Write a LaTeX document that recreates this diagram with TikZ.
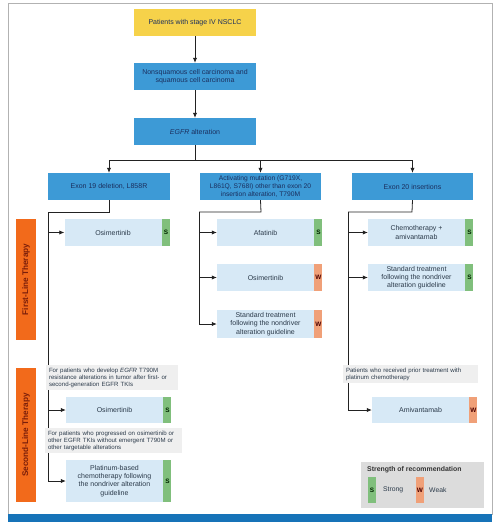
\documentclass[tikz,border=0pt]{standalone}
\usepackage{fontspec}
\setmainfont{Liberation Sans}
\usetikzlibrary{arrows.meta}
\pgfdeclarelayer{bg}\pgfdeclarelayer{back}\pgfsetlayers{back,bg,main}
\definecolor{yel}{HTML}{F6D24A}
\definecolor{blu}{HTML}{3D9AD6}
\definecolor{navy}{HTML}{1B2F5E}
\definecolor{lblu}{HTML}{D7E9F6}
\definecolor{grn}{HTML}{80BF7C}
\definecolor{org}{HTML}{F0A078}
\definecolor{barc}{HTML}{F26A1B}
\definecolor{barT}{HTML}{7A1E0A}
\definecolor{notec}{HTML}{EFEFEF}
\definecolor{legc}{HTML}{DCDCDC}
\definecolor{botc}{HTML}{1673B8}
\definecolor{txc}{HTML}{2B3A4A}
\definecolor{lnc}{HTML}{222222}
\begin{document}
\begin{tikzpicture}[x=1pt,y=-1pt,
  box/.style={minimum width=122pt, minimum height=27pt, inner sep=1pt, align=center, text=navy, font=\fontsize{7}{8.2}\selectfont},
  ybox/.style={box, fill=yel},
  bbox/.style={box, fill=blu},
  lt/.style={minimum width=97pt, minimum height=27pt, inner sep=1pt, align=center, fill=lblu, text=txc, font=\fontsize{7}{8.2}\selectfont},
  tagS/.style={anchor=west, minimum width=8pt, inner sep=0pt, fill=grn, text=black!85!green, font=\bfseries\fontsize{6.4}{7}\selectfont},
  tagW/.style={anchor=west, minimum width=8pt, inner sep=0pt, fill=org, text=black!70!red, font=\bfseries\fontsize{6.4}{7}\selectfont},
  notebox/.style={fill=notec, inner xsep=3pt, inner ysep=1pt, align=left, text=txc, font=\fontsize{6.1}{7}\selectfont},
  barnode/.style={fill=barc, rotate=90, minimum height=20pt, inner sep=0pt, text=barT, font=\bfseries\fontsize{8.2}{9}\selectfont},
  ln/.style={draw=lnc, line width=0.8pt},
  arr/.style={ln, -{Latex[length=5pt,width=4.4pt]}}
]
\useasboundingbox (0,0) rectangle (500,528);
\begin{pgfonlayer}{back}
\fill[white] (0,0) rectangle (500,528);
\draw[black!30, line width=0.8pt] (8,3) rectangle (492,514);
\fill[botc] (8,514) rectangle (492,522);
\end{pgfonlayer}

% top chain
\node[ybox] (n1) at (195,22.5) {Patients with stage IV NSCLC};
\node[bbox] (n2) at (195,76.5) {Nonsquamous cell carcinoma and\\squamous cell carcinoma};
\node[bbox] (n3) at (195,131.5) {\textit{EGFR} alteration};
\coordinate (sp) at (195,160);

% second level
\node[bbox] (A) at (109,186.5) {Exon 19 deletion, L858R};
\node[bbox, minimum width=121pt, font=\fontsize{6.7}{7.6}\selectfont] (B) at (260.5,186.5) {Activating mutation (G719X,\\L861Q, S768I) other than exon 20\\insertion alteration, T790M};
\node[bbox, minimum width=121pt] (C) at (412.5,186.5) {Exon 20 insertions};

% bars
\node[barnode, minimum width=121pt] (fl) at (26,279.5) {First-Line Therapy};
\node[barnode, minimum width=134pt] (sl) at (26,435) {Second-Line Therapy};

% column A
\node[lt] (o1) at (113,232.5) {Osimertinib};
\node[tagS, minimum height=27pt] (o1t) at (o1.east) {S};
\node[notebox, text width=126pt, minimum height=25pt] (nt1) at (112,377.5) {For patients who develop \textit{EGFR} T790M\\resistance alterations in tumor after first- or\\second-generation EGFR TKIs};
\node[lt, minimum height=26pt] (o2) at (114.5,410) {Osimertinib};
\node[tagS, minimum height=26pt] (o2t) at (o2.east) {S};
\node[notebox, text width=131pt, minimum height=25pt] (nt2) at (113.5,440.5) {For patients who progressed on osimertinib or\\other EGFR TKIs without emergent T790M or\\other targetable alterations};
\node[lt, minimum height=42pt] (p1) at (114.5,481) {Platinum-based\\chemotherapy following\\the nondriver alteration\\guideline};
\node[tagS, minimum height=42pt] (p1t) at (p1.east) {S};

% column B
\node[lt] (b1) at (265.5,232.5) {Afatinib};
\node[tagS, minimum height=27pt] (b1t) at (b1.east) {S};
\node[lt] (b2) at (265.5,277.5) {Osimertinib};
\node[tagW, minimum height=27pt] (b2t) at (b2.east) {W};
\node[lt, minimum height=28pt] (b3) at (265.5,324) {Standard treatment\\following the nondriver\\alteration guideline};
\node[tagW, minimum height=28pt] (b3t) at (b3.east) {W};

% column C
\node[lt] (c1) at (416.5,232.5) {Chemotherapy +\\amivantamab};
\node[tagS, minimum height=27pt] (c1t) at (c1.east) {S};
\node[lt] (c2) at (416.5,277.5) {Standard treatment\\following the nondriver\\alteration guideline};
\node[tagS, minimum height=27pt] (c2t) at (c2.east) {S};
\node[notebox, text width=129pt, minimum height=18pt] (nt3) at (410.5,374) {Patients who received prior treatment with\\platinum chemotherapy};
\node[lt, minimum height=26pt] (am) at (420.5,410) {Amivantamab};
\node[tagW, minimum height=26pt] (amt) at (am.east) {W};

% legend
\node[fill=legc, minimum width=123pt, minimum height=46pt, inner sep=0pt] (leg) at (422.5,485) {};
\node[anchor=west, inner sep=0pt, text=black!80, font=\bfseries\fontsize{6.9}{7.8}\selectfont] (legt) at (367,470) {Strength of recommendation};
\node[tagS, anchor=center, minimum height=26pt] (ls) at (372,490) {S};
\node[anchor=west, inner sep=0pt, text=txc, font=\fontsize{6.8}{7.8}\selectfont] (lst) at (383,490) {Strong};
\node[tagW, anchor=center, minimum height=26pt] (lw) at (420,490) {W};
\node[anchor=west, inner sep=0pt, text=txc, font=\fontsize{6.8}{7.8}\selectfont] (lwt) at (429,490) {Weak};

% connectors
\coordinate (ja) at (109,212);
\coordinate (ta) at (48,212);
\coordinate (jb) at (261,212);
\coordinate (tb) at (199,212);
\coordinate (jc) at (412,212);
\coordinate (tc) at (348,212);
\begin{pgfonlayer}{bg}
\draw[arr] (n1) -- (n2);
\draw[arr] (n2) -- (n3);
\draw[ln] (n3.south) -- (sp);
\draw[arr] (sp) -| (A.north);
\draw[arr] (sp) -| (B.north);
\draw[arr] (sp) -| (C.north);
\draw[ln] (A.south) -- (ja) -- (ta);
\draw[arr] (ta) |- (o1.west);
\draw[arr] (ta) |- (o2.west);
\draw[arr] (ta) |- (p1.west);
\draw[ln] (B.south) -- (jb) -- (tb);
\draw[arr] (tb) |- (b1.west);
\draw[arr] (tb) |- (b2.west);
\draw[arr] (tb) |- (b3.west);
\draw[ln] (C.south) -- (jc) -- (tc);
\draw[arr] (tc) |- (c1.west);
\draw[arr] (tc) |- (c2.west);
\draw[arr] (tc) |- (am.west);
\end{pgfonlayer}
\end{tikzpicture}
\end{document}
